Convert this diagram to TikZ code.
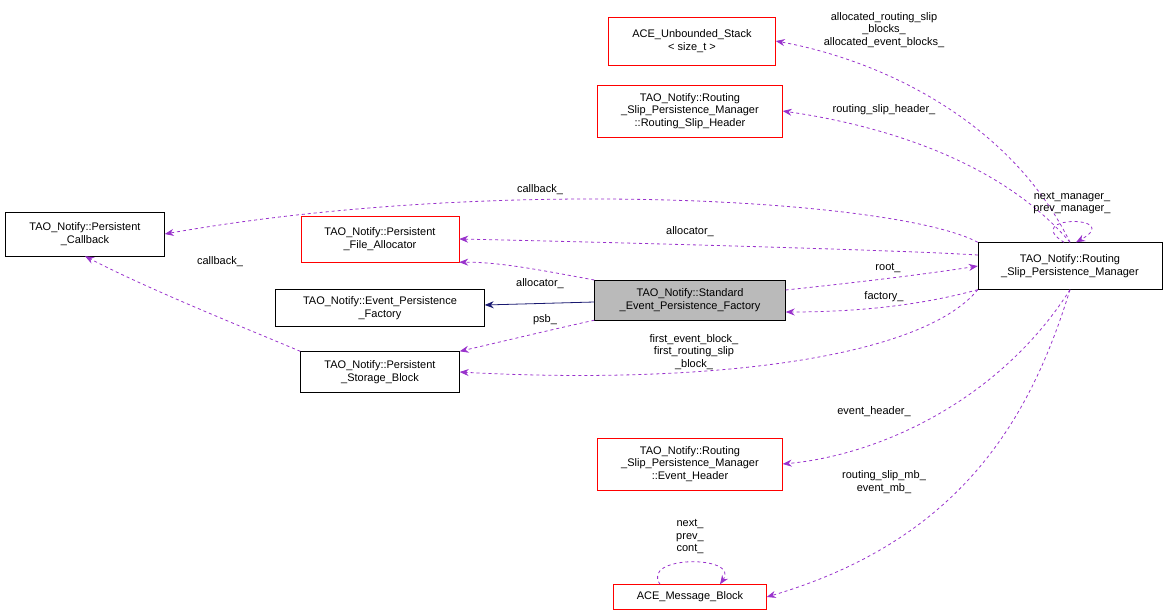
\documentclass[tikz,border=0pt]{standalone}
\usepackage{fontspec}
\setmainfont{Liberation Sans}
\usetikzlibrary{arrows.meta}
\definecolor{edgepurple}{RGB}{153,50,204}
\definecolor{navyblue}{RGB}{25,25,112}
\tikzset{
  cls/.style={draw=black,fill=white,align=center,font=\fontsize{11}{12.5}\selectfont,inner sep=2pt},
  redcls/.style={cls,draw=red},
  usage/.style={draw=edgepurple,dashed,line width=0.8pt,-{Stealth[length=9pt,width=7pt]}},
  inherit/.style={draw=navyblue,line width=0.8pt,-{Stealth[length=9pt,width=7pt]}},
  lbl/.style={font=\fontsize{11}{12.5}\selectfont,align=center,inner sep=1pt}
}
\begin{document}
\begin{tikzpicture}[x=1pt,y=-1pt]
  \useasboundingbox (0,0) rectangle (1168,616);
  % classes
  \node[redcls,minimum width=167pt,minimum height=48pt] (stack) at (692,41) {ACE\_Unbounded\_Stack\\< size\_t >};
  \node[redcls,minimum width=185pt,minimum height=52pt] (rsh) at (690,111) {TAO\_Notify::Routing\\\_Slip\_Persistence\_Manager\\::Routing\_Slip\_Header};
  \node[cls,minimum width=159pt,minimum height=44pt] (pcb) at (85,234) {TAO\_Notify::Persistent\\\_Callback};
  \node[redcls,minimum width=158pt,minimum height=46pt] (pfa) at (380,239) {TAO\_Notify::Persistent\\\_File\_Allocator};
  \node[cls,minimum width=209pt,minimum height=37pt] (epf) at (380,308) {TAO\_Notify::Event\_Persistence\\\_Factory};
  \node[cls,fill=black!27,minimum width=191pt,minimum height=40pt] (sepf) at (690,300) {TAO\_Notify::Standard\\\_Event\_Persistence\_Factory};
  \node[cls,minimum width=184pt,minimum height=47pt] (rspm) at (1070,266) {TAO\_Notify::Routing\\\_Slip\_Persistence\_Manager};
  \node[cls,minimum width=159pt,minimum height=41pt] (psb) at (380,372) {TAO\_Notify::Persistent\\\_Storage\_Block};
  \node[redcls,minimum width=185pt,minimum height=52pt] (eh) at (690,464) {TAO\_Notify::Routing\\\_Slip\_Persistence\_Manager\\::Event\_Header};
  \node[redcls,minimum width=153pt,minimum height=25pt] (mb) at (690,597) {ACE\_Message\_Block};
  % connectors
  \draw[usage] (rspm.north) .. controls (1010,120) and (880,60) .. (stack.east);
  \node[lbl] (l1) at (884,30) {allocated\_routing\_slip\\\_blocks\_\\allocated\_event\_blocks\_};
  \draw[usage] (rspm.north) .. controls (1000,160) and (880,125) .. (rsh.east);
  \node[lbl] (l2) at (884,110) {routing\_slip\_header\_};
  \draw[usage] (rspm.north west) .. controls (900,200) and (500,175) .. (pcb.east);
  \node[lbl] (l3) at (540,190) {callback\_};
  \draw[usage] (rspm.west |- 0,255) .. controls (900,250) and (600,242) .. (pfa.east);
  \node[lbl] (l4) at (690,232) {allocator\_};
  \draw[usage] (sepf.west |- 0,280) .. controls (540,270) and (500,262) .. (pfa.south east);
  \node[lbl] (l5) at (540,284) {allocator\_};
  \draw[inherit] (sepf.west |- 0,302) -- (epf.east |- 0,305);
  \draw[usage] (sepf.south west) .. controls (550,330) and (500,342) .. (psb.north east);
  \node[lbl] (l6) at (545,320) {psb\_};
  \draw[usage] (sepf.east |- 0,290) .. controls (880,280) and (940,272) .. (rspm.west);
  \node[lbl] (l7) at (888,268) {root\_};
  \draw[usage] (rspm.south west) .. controls (940,300) and (880,312) .. (sepf.east |- 0,312);
  \node[lbl] (l8) at (884,297) {factory\_};
  \draw[usage] (rspm.south west) .. controls (920,360) and (700,385) .. (psb.east);
  \node[lbl] (l9) at (694,352) {first\_event\_block\_\\first\_routing\_slip\\\_block\_};
  \draw[usage] (rspm.south) .. controls (1000,400) and (880,455) .. (eh.east);
  \node[lbl] (l10) at (874,412) {event\_header\_};
  \draw[usage] (rspm.south) .. controls (1030,420) and (960,540) .. (mb.east);
  \node[lbl] (l11) at (884,482) {routing\_slip\_mb\_\\event\_mb\_};
  \draw[usage] (psb.north west) .. controls (250,330) and (150,290) .. (pcb.south);
  \node[lbl] (l12) at (220,262) {callback\_};
  \draw[usage] ([xshift=-6pt]rspm.north) .. controls (1020,215) and (1125,215) .. ([xshift=6pt]rspm.north);
  \node[lbl] (l13) at (1072,203) {next\_manager\_\\prev\_manager\_};
  \draw[usage] ([xshift=-30pt]mb.north) .. controls (640,555) and (740,555) .. ([xshift=30pt]mb.north);
  \node[lbl] (l14) at (690,537) {next\_\\prev\_\\cont\_};
\end{tikzpicture}
\end{document}
